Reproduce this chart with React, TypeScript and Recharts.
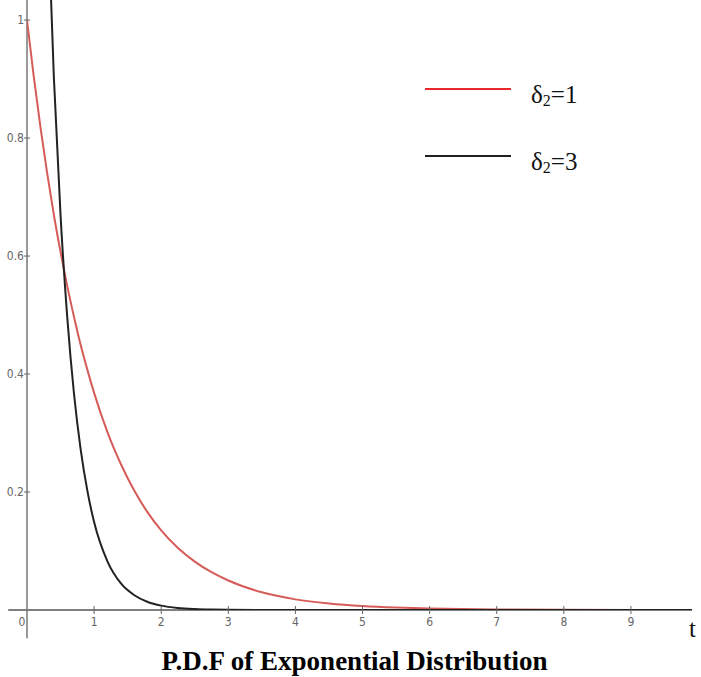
import { LineChart, Line, XAxis, YAxis, ReferenceLine } from 'recharts';

// sample points along t
const tValues = [0, 0.1, 0.2, 0.3, 0.4, 0.5, 0.6, 0.7, 0.8, 0.9, 1, 1.2, 1.4, 1.6, 1.8, 2, 2.25, 2.5, 2.75, 3, 3.5, 4, 4.5, 5, 5.5, 6, 7, 8, 9, 9.91];
// delta2 = 1 (red)
const redValues = [1, 0.905, 0.819, 0.741, 0.67, 0.607, 0.549, 0.497, 0.449, 0.407, 0.368, 0.301, 0.247, 0.202, 0.165, 0.135, 0.105, 0.082, 0.064, 0.05, 0.03, 0.018, 0.011, 0.0067, 0.0041, 0.0025, 0.0009, 0.0003, 0.0001, 0.00005];
// delta2 = 3 (black)
const blackValues = [3, 2.22, 1.65, 1.22, 0.904, 0.669, 0.496, 0.367, 0.272, 0.202, 0.149, 0.082, 0.045, 0.025, 0.0136, 0.0074, 0.0035, 0.0017, 0.0008, 0.0004, 0.0001, 0, 0, 0, 0, 0, 0, 0, 0, 0];

const xTicks = [0, 1, 2, 3, 4, 5, 6, 7, 8, 9];
const yTicks = [0.2, 0.4, 0.6, 0.8, 1];

const data = tValues.map((t, i) => ({ t, red: redValues[i], black: blackValues[i] }));

const tickFont = "'Liberation Sans Narrow', 'DejaVu Sans Condensed', Arial, sans-serif";
const serif = "'Liberation Serif', 'Times New Roman', serif";

const XTick = (props: any) => {
  const { x, y, payload } = props;
  const lx = payload.value === 0 ? x - 5 : x;
  return (
    <g>
      {payload.value !== 0 && <line x1={x} x2={x} y1={y - 4} y2={y + 4} stroke="#666" strokeWidth={1} />}
      <text x={lx} y={y + 16} textAnchor="middle" fontSize={12} fill="#666" fontFamily={tickFont}>
        {payload.value}
      </text>
    </g>
  );
};

const YTick = (props: any) => {
  const { x, y, payload } = props;
  return (
    <g>
      <line x1={x - 3} x2={x + 3} y1={y} y2={y} stroke="#666" strokeWidth={1} />
      <text x={x - 3} y={y + 4} textAnchor="end" fontSize={12} fill="#666" fontFamily={tickFont}>
        {payload.value}
      </text>
    </g>
  );
};

export default function App() {
  return (
    <div style={{ position: 'absolute', left: 0, top: 0, width: 701, height: 677, background: '#fff' }}>
      <LineChart width={701} height={677} data={data} margin={{ top: 0, right: 9, bottom: 37, left: 0 }}>
        <XAxis
          dataKey="t"
          type="number"
          domain={[0, 9.91]}
          ticks={xTicks}
          allowDataOverflow
          axisLine={false}
          tickLine={false}
          tickSize={0}
          tickMargin={0}
          height={30}
          tick={<XTick />}
          interval={0}
        />
        <YAxis
          type="number"
          domain={[0, 1.034]}
          ticks={yTicks}
          allowDataOverflow
          axisLine={false}
          tickLine={false}
          tickSize={0}
          tickMargin={0}
          width={27}
          tick={<YTick />}
          interval={0}
        />
        <ReferenceLine
          segment={[{ x: -0.28, y: 0 }, { x: 9.91, y: 0 }]}
          stroke="#555"
          strokeWidth={1.5}
          ifOverflow="visible"
        />
        <ReferenceLine
          segment={[{ x: 0, y: -0.048 }, { x: 0, y: 1.034 }]}
          stroke="#777"
          strokeWidth={1.5}
          ifOverflow="visible"
        />
        <Line type="monotone" dataKey="red" stroke="#d65c5a" strokeWidth={2} dot={false} isAnimationActive={false} />
        <Line type="monotone" dataKey="black" stroke="#222" strokeWidth={2} dot={false} isAnimationActive={false} />
      </LineChart>

      {/* legend */}
      <div style={{ position: 'absolute', left: 425, top: 88, width: 86, height: 2, background: '#e8282b' }} />
      <div style={{ position: 'absolute', left: 531, top: 80, fontFamily: serif, fontSize: 25, color: '#111', lineHeight: '30px' }}>
        δ<sub style={{ fontSize: 16, verticalAlign: -3 }}>2</sub>=1
      </div>
      <div style={{ position: 'absolute', left: 425, top: 155, width: 86, height: 2, background: '#222' }} />
      <div style={{ position: 'absolute', left: 531, top: 147, fontFamily: serif, fontSize: 25, color: '#111', lineHeight: '30px' }}>
        δ<sub style={{ fontSize: 16, verticalAlign: -3 }}>2</sub>=3
      </div>

      <div style={{ position: 'absolute', left: 689, top: 614, fontFamily: serif, fontSize: 25, color: '#111', lineHeight: '30px' }}>t</div>
      <div style={{ position: 'absolute', left: 0, width: 701, top: 645, textAlign: 'center', fontFamily: serif, fontWeight: 'bold', fontSize: 27, color: '#000', lineHeight: '32px', paddingLeft: 8, boxSizing: 'border-box' }}>
        P.D.F of Exponential Distribution
      </div>
    </div>
  );
}
